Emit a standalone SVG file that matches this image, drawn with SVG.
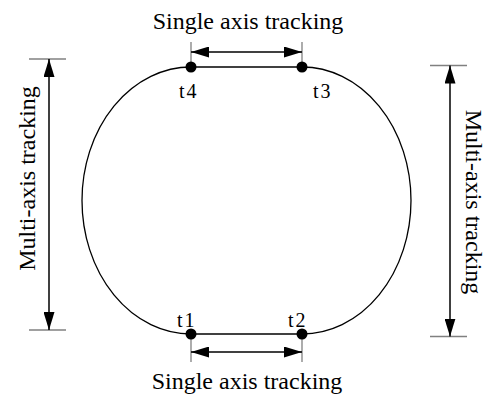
<svg xmlns="http://www.w3.org/2000/svg" width="490" height="398" viewBox="0 0 490 398">
<style>
.lbl{font-family:"Liberation Serif","Times New Roman",serif;font-size:24px;fill:#000}
.tl{font-family:"Liberation Serif","Times New Roman",serif;font-size:20px;fill:#000;letter-spacing:2px}
.curve{fill:none;stroke:#000;stroke-width:1.3}
.arr{stroke:#000;stroke-width:1.5;fill:none;marker-start:url(#ah);marker-end:url(#ah)}
.tick{stroke:#808080;stroke-width:1.3;fill:none}
.dot{fill:#000}
</style>
<defs>
<marker id="ah" markerUnits="userSpaceOnUse" markerWidth="18" markerHeight="11" refX="18" refY="5.5" orient="auto-start-reverse">
<path d="M0,0 L18,5.5 L0,11 Z" fill="#000"/>
</marker>
</defs>
<rect width="490" height="398" fill="#fff"/>
<g id="connectors">
<path class="curve" d="M191,67 A109,133.5 0 0 0 191,334"/>
<path class="curve" d="M302,67 A109,133.5 0 0 1 302,334"/>
<line class="curve" x1="191" y1="67" x2="302" y2="67"/>
<line class="curve" x1="191" y1="334" x2="302" y2="334"/>
<line class="tick" x1="191" y1="42" x2="191" y2="67"/>
<line class="tick" x1="302" y1="42" x2="302" y2="67"/>
<line class="arr" x1="191" y1="52" x2="302" y2="52"/>
<line class="tick" x1="191" y1="334" x2="191" y2="362"/>
<line class="tick" x1="302" y1="334" x2="302" y2="362"/>
<line class="arr" x1="191" y1="352" x2="302" y2="352"/>
<line class="tick" x1="29" y1="59" x2="66" y2="59"/>
<line class="tick" x1="29" y1="330" x2="66" y2="330"/>
<line class="arr" x1="49" y1="59" x2="49" y2="330"/>
<line class="tick" x1="430" y1="65.5" x2="467" y2="65.5"/>
<line class="tick" x1="430" y1="336.5" x2="467" y2="336.5"/>
<line class="arr" x1="450" y1="65.5" x2="450" y2="336.5"/>
</g>
<g id="t4"><circle class="dot" cx="191" cy="67" r="5.5"/><text class="tl" x="179" y="98">t4</text></g>
<g id="t3"><circle class="dot" cx="302" cy="67" r="5.5"/><text class="tl" x="313" y="98">t3</text></g>
<g id="t1"><circle class="dot" cx="191" cy="334" r="5.5"/><text class="tl" x="177" y="327">t1</text></g>
<g id="t2"><circle class="dot" cx="302" cy="334" r="5.5"/><text class="tl" x="288" y="327">t2</text></g>
<g id="labels">
<text class="lbl" x="248" y="29" text-anchor="middle">Single axis tracking</text>
<text class="lbl" x="247" y="389" text-anchor="middle">Single axis tracking</text>
<text class="lbl" text-anchor="middle" transform="translate(35,178.5) rotate(-90)">Multi-axis tracking</text>
<text class="lbl" text-anchor="middle" transform="translate(466,202) rotate(90)">Multi-axis tracking</text>
</g>
</svg>
